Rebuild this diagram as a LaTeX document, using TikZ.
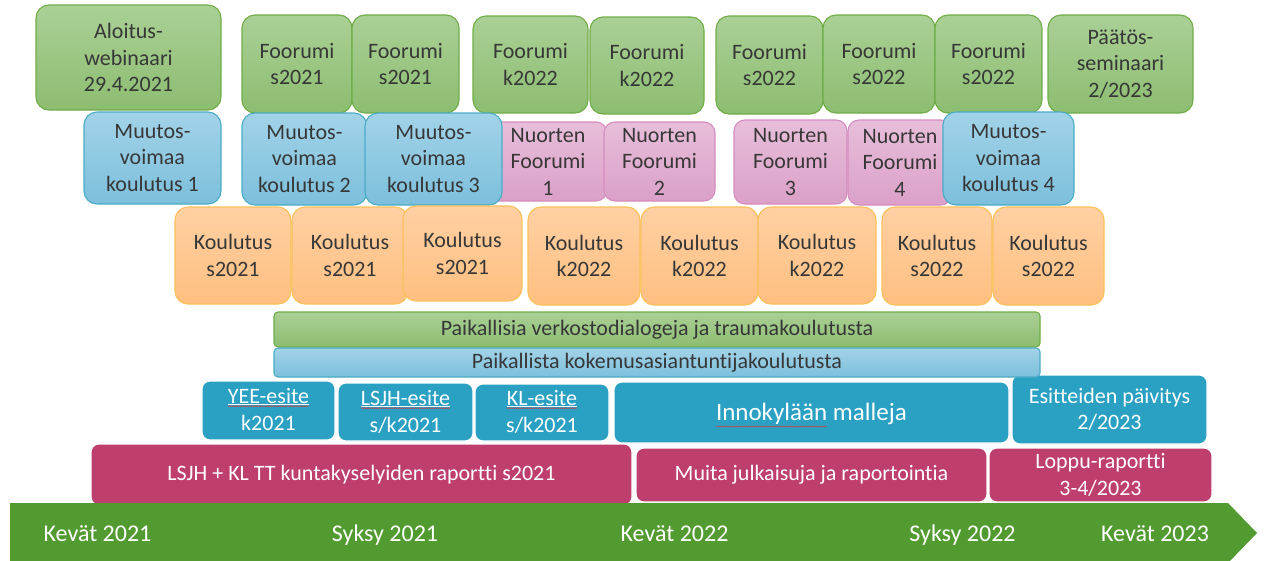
\documentclass[tikz,border=0pt]{standalone}
\usepackage{fontspec}
\setmainfont{Carlito}[Ligatures=CommonOff]
\usetikzlibrary{decorations.pathmorphing}
\definecolor{gtop}{RGB}{170,208,150}
\definecolor{gbot}{RGB}{140,189,112}
\definecolor{gedge}{RGB}{112,173,71}
\definecolor{btop}{RGB}{162,211,232}
\definecolor{bbot}{RGB}{124,191,220}
\definecolor{bedge}{RGB}{75,172,198}
\definecolor{ptop}{RGB}{231,190,218}
\definecolor{pbot}{RGB}{219,160,200}
\definecolor{pedge}{RGB}{214,140,190}
\definecolor{otop}{RGB}{255,208,163}
\definecolor{obot}{RGB}{255,191,128}
\definecolor{oedge}{RGB}{250,192,90}
\definecolor{teal}{RGB}{42,160,195}
\definecolor{mag}{RGB}{190,62,110}
\definecolor{arrowgreen}{RGB}{82,155,48}
\definecolor{txt}{RGB}{55,55,55}
\definecolor{squigred}{RGB}{215,60,60}
\tikzset{
  boxbase/.style={inner sep=0pt, outer sep=0pt, align=center, font=\fontsize{22}{26.5}\selectfont, line width=1.1pt},
  gbox/.style={boxbase, rounded corners=13pt, draw=gedge, top color=gtop, bottom color=gbot, text=txt},
  bbox/.style={boxbase, rounded corners=13pt, draw=bedge, top color=btop, bottom color=bbot, text=txt},
  pbox/.style={boxbase, rounded corners=11pt, draw=pedge, top color=ptop, bottom color=pbot, text=txt},
  obox/.style={boxbase, rounded corners=13pt, draw=oedge, top color=otop, bottom color=obot, text=txt},
  gbar/.style={boxbase, rounded corners=4pt, draw=gedge, top color=gtop, bottom color=gbot, text=txt},
  bbar/.style={boxbase, rounded corners=4pt, draw=bedge, top color=btop, bottom color=bbot, text=txt},
  tbox/.style={boxbase, rounded corners=8pt, draw=white, fill=teal, text=white},
  mbox/.style={boxbase, rounded corners=8pt, draw=white, fill=mag, text=white},
  tword/.style={inner sep=0pt, outer sep=0pt, anchor=base, text=white, font=\fontsize{22}{26.5}\selectfont},
  uline/.style={white, line width=0.7pt},
  squig/.style={squigred, line width=0.45pt, decorate, decoration={snake,amplitude=0.5pt,segment length=2.2pt}},
  tlabel/.style={inner sep=0pt, anchor=base, text=white, font=\fontsize{24}{28}\selectfont},
}
\newcommand\tlbox[7]{\node[#1, minimum width={(#5-#3)*1pt}, minimum height={(#6-#4)*1pt}] (#2) at ({(#3+#5)/2},{(#4+#6)/2}) {#7};}
\begin{document}
\begin{tikzpicture}[x=1pt,y=-1pt]
\useasboundingbox (0,0) rectangle (1265,560);
% top row
\tlbox{gbox}{g1}{36}{5}{221}{110}{Aloitus-\\webinaari\\29.4.2021}
\tlbox{gbox}{g2}{242}{15}{352}{113}{Foorumi\\s2021}
\tlbox{gbox}{g3}{352}{15}{459}{113}{Foorumi\\s2021}
\tlbox{gbox}{g4}{473}{16}{588}{113}{Foorumi\\k2022}
\tlbox{gbox}{g5}{590}{17}{704}{114}{Foorumi\\k2022}
\tlbox{gbox}{g6}{716}{16}{823}{114}{Foorumi\\s2022}
\tlbox{gbox}{g7}{823}{15}{935}{113}{Foorumi\\s2022}
\tlbox{gbox}{g8}{935}{15}{1042}{113}{Foorumi\\s2022}
\tlbox{gbox}{g9}{1048}{15}{1193}{113}{Päätös-\\seminaari\\2/2023}
% second row
\tlbox{bbox}{b1}{84}{112}{221}{204}{Muutos-\\voimaa\\koulutus 1}
\tlbox{bbox}{b2}{242}{113}{367}{205}{Muutos-\\voimaa\\koulutus 2}
\tlbox{pbox}{p1}{489}{122}{607}{201}{Nuorten\\Foorumi\\1}
\tlbox{bbox}{b3}{365}{113}{502}{205}{Muutos-\\voimaa\\koulutus 3}
\tlbox{pbox}{p2}{604}{122}{715}{201}{Nuorten\\Foorumi\\2}
\tlbox{pbox}{p3}{734}{120}{847}{204}{Nuorten\\Foorumi\\3}
\tlbox{pbox}{p4}{848}{120}{952}{205}{Nuorten\\Foorumi\\4}
\tlbox{bbox}{b4}{943}{112}{1074}{205}{Muutos-\\voimaa\\koulutus 4}
% third row
\tlbox{obox}{o1}{175}{207}{291}{304}{Koulutus\\s2021}
\tlbox{obox}{o2}{292}{207}{408}{304}{Koulutus\\s2021}
\tlbox{obox}{o3}{403}{206}{522}{301}{Koulutus\\s2021}
\tlbox{obox}{o4}{528}{207}{640}{305}{Koulutus\\k2022}
\tlbox{obox}{o5}{641}{207}{758}{305}{Koulutus\\k2022}
\tlbox{obox}{o6}{758}{207}{876}{304}{Koulutus\\k2022}
\tlbox{obox}{o7}{882}{207}{992}{305}{Koulutus\\s2022}
\tlbox{obox}{o8}{993}{207}{1104}{305}{Koulutus\\s2022}
% publications row
\tlbox{tbox}{t1}{202}{381}{335}{440}{}
\tlbox{tbox}{t2}{338}{383}{473}{441}{}
\tlbox{tbox}{t3}{475}{384}{609}{441}{}
\tlbox{tbox}{t4}{614}{382}{1009}{443}{}
\tlbox{tbox}{t5}{1012}{375}{1207}{444}{Esitteiden päivitys\\2/2023}
\node[tword] (t1a) at (268.5,403) {YEE-esite};
\node[tword] (t1b) at (268.5,430) {k2021};
\node[tword] (t2a) at (405.5,405) {LSJH-esite};
\node[tword] (t2b) at (405.5,432) {s/k2021};
\node[tword] (t3a) at (542,405) {KL-esite};
\node[tword] (t3b) at (542,432) {s/k2021};
\node[tword, anchor=base west, font=\fontsize{25}{30}\selectfont] (t4a) at (716,420.5) {Innokylään};
\node[tword, anchor=base west, font=\fontsize{25}{30}\selectfont] (t4b) at ([xshift=5.7pt]t4a.base east) {malleja};
\foreach \w in {t1a,t2a,t3a}{
  \draw[uline] ([yshift=-1.5pt]\w.base west) -- ([yshift=-1.5pt]\w.base east);
  \draw[squig] ([yshift=-3.2pt]\w.base west) -- ([yshift=-3.2pt]\w.base east);
}
\draw[squig] ([yshift=-6pt]t4a.base west) -- ([yshift=-6pt]t4a.base east);
% bars
\tlbox{gbar}{bar1}{274}{312}{1040}{347}{Paikallisia verkostodialogeja ja traumakoulutusta}
\tlbox{bbar}{bar2}{274}{348}{1040}{377}{Paikallista kokemusasiantuntijakoulutusta}
% reports row
\tlbox{mbox}{m1}{91}{444}{632}{505}{LSJH + KL TT kuntakyselyiden raportti s2021}
\tlbox{mbox}{m2}{636}{448}{987}{502}{Muita julkaisuja ja raportointia}
\tlbox{mbox}{m3}{989}{448}{1212}{502}{Loppu-raportti\\3-4/2023}
% timeline arrow
\fill[arrowgreen] (10,503) -- (1228,503) -- (1257,533) -- (1228,563) -- (10,563) -- cycle;
\node[tlabel] (k21) at (97.5,541.5) {Kevät 2021};
\node[tlabel] (s21) at (385,541.5) {Syksy 2021};
\node[tlabel] (k22) at (674.5,541.5) {Kevät 2022};
\node[tlabel] (s22) at (962.5,541.5) {Syksy 2022};
\node[tlabel] (k23) at (1155,541.5) {Kevät 2023};
\end{tikzpicture}
\end{document}
